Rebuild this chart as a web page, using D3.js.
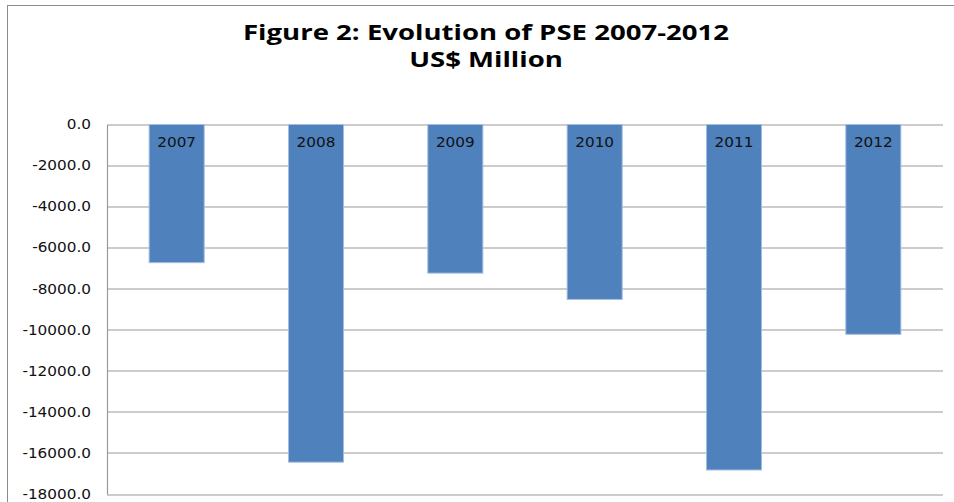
<!DOCTYPE html>
<html>
<head>
<meta charset="utf-8">
<script src="https://cdn.jsdelivr.net/npm/d3@7"></script>
<style>
  body { margin: 0; background: #fff; }
  .tick text { font-family: "DejaVu Sans", Verdana, sans-serif; }
</style>
</head>
<body>
<div id="chart"></div>
<script>
// Chart data
const years = ["2007", "2008", "2009", "2010", "2011", "2012"];
const pse = [-6730, -16450, -7240, -8520, -16830, -10220];
const yTicks = [0, -2000, -4000, -6000, -8000, -10000, -12000, -14000, -16000, -18000];
const titleLines = ["Figure 2: Evolution of PSE 2007-2012", "US$ Million"];

const svgWidth = 954;
const svgHeight = 502;
const margin = { top: 124.5, right: 11, bottom: 8, left: 107 };
const width = svgWidth - margin.left - margin.right;
const height = svgHeight - margin.top - margin.bottom;

// the original picture is a bit stretched sideways, so text is widened too
function stretch(sel, k) {
  sel.each(function() {
    const len = this.getComputedTextLength();
    d3.select(this)
      .attr("textLength", len * k)
      .attr("lengthAdjust", "spacingAndGlyphs");
  });
}

const svg = d3.select("#chart")
  .append("svg")
  .attr("width", svgWidth)
  .attr("height", svgHeight);

// outer chart border
svg.append("rect")
  .attr("x", 7.5)
  .attr("y", 5.5)
  .attr("width", 960)
  .attr("height", 520)
  .attr("fill", "none")
  .attr("stroke", "#8c8c8c")
  .attr("stroke-width", 1);

// title
const title = svg.append("g")
  .selectAll("text")
  .data(titleLines)
  .enter()
  .append("text")
  .attr("x", 486)
  .attr("y", (d, i) => 39.5 + i * 27)
  .attr("text-anchor", "middle")
  .attr("font-family", "'Open Sans', sans-serif")
  .attr("font-weight", "bold")
  .attr("font-size", "22px")
  .attr("fill", "#000")
  .text(d => d);

const firstLen = title.node().getComputedTextLength();
stretch(title, 486 / firstLen);

const chartGroup = svg.append("g")
  .attr("transform", `translate(${margin.left}, ${margin.top})`);

const xScale = d3.scaleBand()
  .domain(years)
  .range([0, width])
  .paddingInner(0.605)
  .paddingOuter(0.3025);

const yScale = d3.scaleLinear()
  .domain([0, -18000])
  .range([0, height]);

// gridlines
chartGroup.append("g")
  .selectAll("line")
  .data(yTicks)
  .enter()
  .append("line")
  .attr("x1", 0)
  .attr("x2", width)
  .attr("y1", d => Math.round(yScale(d)) + 0.5)
  .attr("y2", d => Math.round(yScale(d)) + 0.5)
  .attr("stroke", "#9a9a9a")
  .attr("stroke-width", 1.2);

// y axis
const leftAxis = d3.axisLeft(yScale)
  .tickValues(yTicks)
  .tickSize(0)
  .tickPadding(16)
  .tickFormat(d3.format(".1f"));

const yAxis = chartGroup.append("g").call(leftAxis);
yAxis.select(".domain").attr("stroke", "#9a9a9a").attr("stroke-width", 1.2);
yAxis.selectAll("text")
  .attr("font-size", "13.5px")
  .attr("fill", "#111")
  .text(d => d === 0 ? "0.0" : d3.format(".1f")(d).replace("−", "-"));
stretch(yAxis.selectAll("text"), 1.13);

// bars
chartGroup.selectAll(".bar")
  .data(pse)
  .enter()
  .append("rect")
  .attr("class", "bar")
  .attr("x", (d, i) => xScale(years[i]))
  .attr("y", yScale(0))
  .attr("width", xScale.bandwidth())
  .attr("height", d => yScale(d) - yScale(0))
  .attr("fill", "#4f81bd")
  .attr("stroke", "#a3bde0")
  .attr("stroke-width", 1);

// bar labels
const barLabels = chartGroup.selectAll(".barLabel")
  .data(years)
  .enter()
  .append("text")
  .attr("class", "barLabel")
  .attr("x", d => xScale(d) + xScale.bandwidth() / 2)
  .attr("y", 22)
  .attr("text-anchor", "middle")
  .attr("font-family", "'DejaVu Sans', Verdana, sans-serif")
  .attr("font-size", "13.5px")
  .attr("fill", "#111")
  .text(d => d);
stretch(barLabels, 1.13);
</script>
</body>
</html>
